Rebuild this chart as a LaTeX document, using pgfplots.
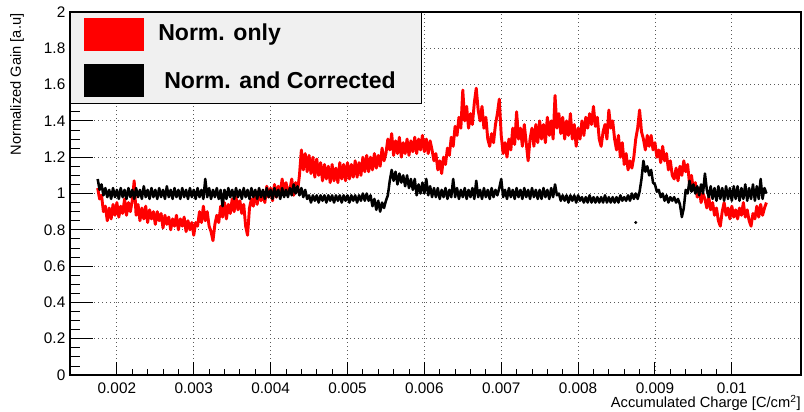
\documentclass[border=0pt]{standalone}
\usepackage{pgfplots}
\pgfplotsset{compat=1.18}
\usepackage{fontspec}
\setmainfont{Liberation Sans}
\definecolor{legendgray}{RGB}{240,240,240}
\begin{document}
\begin{tikzpicture}
\begin{axis}[
  scale only axis, width=548.25pt, height=272.25pt,
  xmin=0.00139, xmax=0.0109, ymin=0, ymax=2,
  axis line style={line width=0.8pt},
  tick pos=left, tick align=inside,
  xtick={0.002,0.003,0.004,0.005,0.006,0.007,0.008,0.009,0.01},
  ytick={0,0.2,0.4,0.6,0.8,1,1.2,1.4,1.6,1.8,2},
  minor x tick num=4, minor y tick num=3,
  xmajorgrids, ymajorgrids,
  grid style={dash pattern=on 0.75pt off 2.25pt, line width=0.6pt, black!65},
  major tick style={line width=0.8pt, black},
  minor tick style={line width=0.6pt, black},
  xtick style={/pgfplots/major tick length=9.5pt,/pgfplots/minor tick length=4.5pt},
  ytick style={/pgfplots/major tick length=17pt,/pgfplots/minor tick length=7.5pt},
  scaled x ticks=false,
  /pgf/number format/assume math mode=true,
  xticklabel style={/pgf/number format/fixed, /pgf/number format/precision=3, font=\fontsize{11.5}{13}\selectfont, yshift=-2pt},
  yticklabel style={font=\fontsize{11.5}{13}\selectfont},
  xlabel={Accumulated Charge [C/cm\textsuperscript{2}]},
  xlabel style={at={(rel axis cs:1,0)}, anchor=base east, inner sep=0pt, yshift=-24.75pt, font=\fontsize{11}{13}\selectfont},
  ylabel={Normalized Gain [a.u]},
  ylabel style={at={(rel axis cs:0,1)}, anchor=east, inner sep=0pt, yshift=39.75pt, xshift=-1pt, font=\fontsize{11}{13}\selectfont},
]
\addplot[red, line width=2.2pt, line join=round] coordinates {
(0.00175,1.03)(0.001775,0.97)(0.0018,0.99)(0.001825,0.90)(0.00185,0.93)(0.001875,0.85)(0.0019,0.92)(0.001925,0.86)(0.00195,0.94)(0.001975,0.88)
(0.002,0.95)(0.002025,0.87)(0.00205,0.93)(0.002075,0.89)(0.0021,0.97)(0.002125,0.88)(0.00215,0.95)(0.002175,0.90)(0.0022,0.96)(0.002225,1.07)
(0.00225,0.88)(0.002275,0.94)(0.0023,0.85)(0.002325,0.92)(0.00235,0.86)(0.002375,0.93)(0.0024,0.84)(0.002425,0.91)(0.00245,0.86)(0.002475,0.90)
(0.0025,0.83)(0.002525,0.90)(0.00255,0.85)(0.002575,0.89)(0.0026,0.81)(0.002625,0.88)(0.00265,0.83)(0.002675,0.87)(0.0027,0.80)(0.002725,0.86)
(0.00275,0.82)(0.002775,0.88)(0.0028,0.80)(0.002825,0.86)(0.00285,0.82)(0.002875,0.87)(0.0029,0.79)(0.002925,0.85)(0.00295,0.80)(0.002975,0.84)
(0.003,0.77)(0.003025,0.84)(0.00305,0.82)(0.003075,0.90)(0.0031,0.84)(0.003125,0.93)(0.00315,0.85)(0.003175,0.90)(0.0032,0.82)(0.003225,0.79)
(0.00325,0.74)(0.003275,0.83)(0.0033,0.88)(0.003325,0.84)(0.00335,0.93)(0.003375,0.87)(0.0034,0.95)(0.003425,0.86)(0.00345,0.94)(0.003475,0.89)
(0.0035,0.97)(0.003525,0.90)(0.00355,0.98)(0.003575,0.91)(0.0036,0.96)(0.003625,0.89)(0.00365,0.94)(0.003675,0.82)(0.0037,0.77)(0.003725,0.92)
(0.00375,0.97)(0.003775,0.93)(0.0038,1.01)(0.003825,0.94)(0.00385,1.02)(0.003875,0.96)(0.0039,1.00)(0.003925,0.95)(0.00395,1.04)(0.003975,0.98)
(0.004,1.03)(0.004025,0.96)(0.00405,1.05)(0.004075,0.98)(0.0041,1.04)(0.004125,1.00)(0.00415,1.08)(0.004175,0.99)(0.0042,1.06)(0.004225,1.01)
(0.00425,1.02)(0.004275,1.08)(0.0043,0.99)(0.004325,1.06)(0.00435,1.01)(0.004375,1.10)(0.0044,1.24)(0.004425,1.13)(0.00445,1.22)(0.004475,1.12)
(0.0045,1.21)(0.004525,1.11)(0.00455,1.20)(0.004575,1.09)(0.0046,1.19)(0.004625,1.10)(0.00465,1.17)(0.004675,1.07)(0.0047,1.16)(0.004725,1.08)
(0.00475,1.15)(0.004775,1.06)(0.0048,1.16)(0.004825,1.07)(0.00485,1.14)(0.004875,1.06)(0.0049,1.17)(0.004925,1.08)(0.00495,1.16)(0.004975,1.07)
(0.005,1.17)(0.005025,1.08)(0.00505,1.16)(0.005075,1.09)(0.0051,1.18)(0.005125,1.09)(0.00515,1.17)(0.005175,1.10)(0.0052,1.20)(0.005225,1.12)
(0.00525,1.21)(0.005275,1.12)(0.0053,1.20)(0.005325,1.13)(0.00535,1.22)(0.005375,1.14)(0.0054,1.21)(0.005425,1.15)(0.00545,1.25)(0.005475,1.18)
(0.0055,1.22)(0.005525,1.30)(0.00555,1.24)(0.005575,1.33)(0.0056,1.21)(0.005625,1.29)(0.00565,1.22)(0.005675,1.31)(0.0057,1.20)(0.005725,1.28)
(0.00575,1.22)(0.005775,1.30)(0.0058,1.21)(0.005825,1.29)(0.00585,1.23)(0.005875,1.31)(0.0059,1.22)(0.005925,1.30)(0.00595,1.24)(0.005975,1.32)
(0.006,1.23)(0.006025,1.30)(0.00605,1.22)(0.006075,1.29)(0.0061,1.24)(0.006125,1.18)(0.00615,1.22)(0.006175,1.13)(0.0062,1.18)(0.006225,1.11)
(0.00625,1.20)(0.006275,1.16)(0.0063,1.25)(0.006325,1.21)(0.00635,1.31)(0.006375,1.26)(0.0064,1.37)(0.006425,1.32)(0.00645,1.42)(0.006475,1.36)
(0.0065,1.57)(0.006525,1.40)(0.00655,1.48)(0.006575,1.36)(0.0066,1.44)(0.006625,1.38)(0.00665,1.50)(0.006675,1.58)(0.0067,1.46)(0.006725,1.40)
(0.00675,1.48)(0.006775,1.36)(0.0068,1.42)(0.006825,1.30)(0.00685,1.26)(0.006875,1.33)(0.0069,1.28)(0.006925,1.38)(0.00695,1.44)(0.006975,1.52)
(0.007,1.32)(0.007025,1.22)(0.00705,1.28)(0.007075,1.20)(0.0071,1.30)(0.007125,1.24)(0.00715,1.36)(0.007175,1.27)(0.0072,1.45)(0.007225,1.30)
(0.00725,1.36)(0.007275,1.26)(0.0073,1.38)(0.007325,1.28)(0.00735,1.18)(0.007375,1.30)(0.0074,1.36)(0.007425,1.26)(0.00745,1.38)(0.007475,1.28)
(0.0075,1.40)(0.007525,1.30)(0.00755,1.38)(0.007575,1.28)(0.0076,1.42)(0.007625,1.32)(0.00765,1.40)(0.007675,1.30)(0.0077,1.54)(0.007725,1.36)
(0.00775,1.44)(0.007775,1.33)(0.0078,1.42)(0.007825,1.30)(0.00785,1.40)(0.007875,1.32)(0.0079,1.44)(0.007925,1.30)(0.00795,1.38)(0.007975,1.26)
(0.008,1.36)(0.008025,1.30)(0.00805,1.40)(0.008075,1.32)(0.0081,1.42)(0.008125,1.36)(0.00815,1.44)(0.008175,1.38)(0.0082,1.48)(0.008225,1.37)
(0.00825,1.42)(0.008275,1.30)(0.0083,1.26)(0.008325,1.34)(0.00835,1.38)(0.008375,1.30)(0.0084,1.46)(0.008425,1.36)(0.00845,1.40)(0.008475,1.30)
(0.0085,1.24)(0.008525,1.32)(0.00855,1.20)(0.008575,1.28)(0.0086,1.16)(0.008625,1.22)(0.00865,1.13)(0.008675,1.18)(0.0087,1.14)(0.008725,1.20)
(0.00875,1.30)(0.008775,1.36)(0.0088,1.46)(0.008825,1.34)(0.00885,1.30)(0.008875,1.24)(0.0089,1.32)(0.008925,1.26)(0.00895,1.32)(0.008975,1.24)
(0.009,1.28)(0.009025,1.20)(0.00905,1.24)(0.009075,1.17)(0.0091,1.26)(0.009125,1.18)(0.00915,1.22)(0.009175,1.13)(0.0092,1.18)(0.009225,1.10)
(0.00925,1.08)(0.009275,1.14)(0.0093,1.07)(0.009325,1.15)(0.00935,1.10)(0.009375,1.18)(0.0094,1.12)(0.009425,1.16)(0.00945,1.05)(0.009475,1.10)
(0.0095,1.02)(0.009525,1.06)(0.00955,0.98)(0.009575,1.03)(0.0096,0.95)(0.009625,1.00)(0.00965,0.97)(0.009675,0.92)(0.0097,0.98)(0.009725,0.91)
(0.00975,0.95)(0.009775,0.88)(0.0098,0.92)(0.009825,0.85)(0.00985,0.82)(0.009875,0.90)(0.0099,0.95)(0.009925,0.88)(0.00995,0.92)(0.009975,0.86)
(0.01,0.93)(0.010025,0.87)(0.01005,0.91)(0.010075,0.86)(0.0101,0.92)(0.010125,0.88)(0.01015,0.95)(0.010175,0.87)(0.0102,0.91)(0.010225,0.85)
(0.01025,0.82)(0.010275,0.89)(0.0103,0.86)(0.010325,0.93)(0.01035,0.87)(0.010375,0.94)(0.0104,0.88)(0.010425,0.92)(0.01045,0.95)
};
\addplot[black, line width=1.9pt, line join=round] coordinates {
(0.00175,1.08)(0.001775,1.02)(0.0018,1.05)(0.001825,0.99)(0.00185,1.03)(0.001875,0.98)(0.0019,1.02)(0.001925,0.97)(0.00195,1.03)(0.001975,0.98)
(0.002,1.02)(0.002025,0.97)(0.00205,1.03)(0.002075,0.98)(0.0021,1.02)(0.002125,0.97)(0.00215,1.03)(0.002175,0.98)(0.0022,1.02)(0.002225,0.97)
(0.00225,1.03)(0.002275,0.98)(0.0023,1.02)(0.002325,0.97)(0.00235,1.04)(0.002375,0.98)(0.0024,1.02)(0.002425,0.97)(0.00245,1.03)(0.002475,0.98)
(0.0025,1.02)(0.002525,0.97)(0.00255,1.03)(0.002575,0.98)(0.0026,1.02)(0.002625,0.97)(0.00265,1.04)(0.002675,0.98)(0.0027,1.02)(0.002725,0.97)
(0.00275,1.03)(0.002775,0.98)(0.0028,1.02)(0.002825,0.97)(0.00285,1.03)(0.002875,0.98)(0.0029,1.02)(0.002925,0.97)(0.00295,1.03)(0.002975,0.98)
(0.003,1.02)(0.003025,0.97)(0.00305,1.03)(0.003075,0.98)(0.0031,1.02)(0.003125,0.97)(0.00315,1.08)(0.003175,0.98)(0.0032,1.03)(0.003225,0.97)
(0.00325,1.02)(0.003275,0.98)(0.0033,1.03)(0.003325,0.97)(0.00335,1.02)(0.003375,0.93)(0.0034,1.02)(0.003425,0.97)(0.00345,1.03)(0.003475,0.98)
(0.0035,1.02)(0.003525,0.97)(0.00355,1.03)(0.003575,0.98)(0.0036,1.02)(0.003625,0.97)(0.00365,1.03)(0.003675,0.98)(0.0037,1.02)(0.003725,0.97)
(0.00375,1.03)(0.003775,0.98)(0.0038,1.02)(0.003825,0.97)(0.00385,1.03)(0.003875,0.98)(0.0039,1.02)(0.003925,0.97)(0.00395,1.03)(0.003975,0.98)
(0.004,1.02)(0.004025,0.97)(0.00405,1.03)(0.004075,0.98)(0.0041,1.02)(0.004125,0.97)(0.00415,1.03)(0.004175,0.98)(0.0042,1.02)(0.004225,0.98)
(0.00425,1.03)(0.004275,0.99)(0.0043,1.05)(0.004325,1.00)(0.00435,1.04)(0.004375,0.99)(0.0044,1.03)(0.004425,0.98)(0.00445,1.02)(0.004475,0.97)
(0.0045,0.99)(0.004525,0.95)(0.00455,0.99)(0.004575,0.96)(0.0046,0.99)(0.004625,0.95)(0.00465,0.99)(0.004675,0.96)(0.0047,0.99)(0.004725,0.95)
(0.00475,0.99)(0.004775,0.96)(0.0048,0.99)(0.004825,0.95)(0.00485,0.99)(0.004875,0.96)(0.0049,0.99)(0.004925,0.95)(0.00495,0.99)(0.004975,0.96)
(0.005,0.99)(0.005025,0.95)(0.00505,0.99)(0.005075,0.96)(0.0051,0.99)(0.005125,0.95)(0.00515,0.99)(0.005175,0.96)(0.0052,1.00)(0.005225,0.96)
(0.00525,1.00)(0.005275,0.96)(0.0053,0.99)(0.005325,0.93)(0.00535,0.97)(0.005375,0.91)(0.0054,0.96)(0.005425,0.90)(0.00545,0.95)(0.005475,0.92)
(0.0055,0.96)(0.005525,0.99)(0.00555,1.07)(0.005575,1.13)(0.0056,1.07)(0.005625,1.12)(0.00565,1.05)(0.005675,1.11)(0.0057,1.06)(0.005725,1.10)
(0.00575,1.04)(0.005775,1.10)(0.0058,1.03)(0.005825,1.08)(0.00585,1.02)(0.005875,1.08)(0.0059,0.99)(0.005925,1.05)(0.00595,1.00)(0.005975,1.06)
(0.006,1.00)(0.006025,1.08)(0.00605,0.99)(0.006075,1.04)(0.0061,0.98)(0.006125,1.03)(0.00615,0.98)(0.006175,1.03)(0.0062,0.97)(0.006225,1.02)
(0.00625,0.98)(0.006275,1.03)(0.0063,0.97)(0.006325,1.02)(0.00635,0.98)(0.006375,1.08)(0.0064,0.98)(0.006425,1.03)(0.00645,0.97)(0.006475,1.02)
(0.0065,0.98)(0.006525,1.03)(0.00655,0.97)(0.006575,1.02)(0.0066,0.98)(0.006625,1.03)(0.00665,0.97)(0.006675,1.07)(0.0067,0.98)(0.006725,1.02)
(0.00675,0.97)(0.006775,1.03)(0.0068,0.98)(0.006825,1.02)(0.00685,0.97)(0.006875,1.03)(0.0069,0.98)(0.006925,1.02)(0.00695,0.99)(0.006975,1.03)
(0.007,1.08)(0.007025,0.98)(0.00705,1.02)(0.007075,0.97)(0.0071,1.03)(0.007125,0.98)(0.00715,1.02)(0.007175,0.97)(0.0072,1.03)(0.007225,0.98)
(0.00725,1.02)(0.007275,0.97)(0.0073,1.03)(0.007325,0.98)(0.00735,1.02)(0.007375,0.97)(0.0074,1.03)(0.007425,0.98)(0.00745,1.02)(0.007475,0.97)
(0.0075,1.02)(0.007525,0.97)(0.00755,1.03)(0.007575,0.98)(0.0076,1.02)(0.007625,0.97)(0.00765,1.03)(0.007675,0.98)(0.0077,1.05)(0.007725,0.99)
(0.00775,1.00)(0.007775,0.96)(0.0078,0.99)(0.007825,0.96)(0.00785,0.99)(0.007875,0.95)(0.0079,0.99)(0.007925,0.96)(0.00795,0.99)(0.007975,0.95)
(0.008,0.99)(0.008025,0.96)(0.00805,0.98)(0.008075,0.95)(0.0081,0.98)(0.008125,0.95)(0.00815,0.99)(0.008175,0.95)(0.0082,0.98)(0.008225,0.95)
(0.00825,0.98)(0.008275,0.95)(0.0083,0.98)(0.008325,0.95)(0.00835,0.99)(0.008375,0.95)(0.0084,0.98)(0.008425,0.95)(0.00845,0.98)(0.008475,0.95)
(0.0085,0.98)(0.008525,0.95)(0.00855,0.99)(0.008575,0.96)(0.0086,0.98)(0.008625,0.96)(0.00865,0.99)(0.008675,0.96)(0.0087,1.00)(0.008725,0.97)
(0.00875,1.00)(0.008775,0.97)(0.0088,1.01)(0.008825,1.08)(0.00885,1.18)(0.008875,1.12)(0.0089,1.15)(0.008925,1.10)(0.00895,1.13)(0.008975,1.06)
(0.009,1.05)(0.009025,1.01)(0.00905,1.02)(0.009075,0.98)(0.0091,1.00)(0.009125,0.96)(0.00915,0.99)(0.009175,0.95)(0.0092,0.98)(0.009225,0.96)
(0.00925,0.98)(0.009275,0.95)(0.0093,0.97)(0.009325,0.94)(0.00935,0.87)(0.009375,0.92)(0.0094,1.02)(0.009425,1.00)(0.00945,1.07)(0.009475,1.01)
(0.0095,1.05)(0.009525,1.00)(0.00955,1.04)(0.009575,0.99)(0.0096,1.05)(0.009625,1.00)(0.00965,1.11)(0.009675,1.02)(0.0097,0.98)(0.009725,1.04)
(0.00975,0.97)(0.009775,1.03)(0.0098,0.96)(0.009825,1.04)(0.00985,0.97)(0.009875,1.03)(0.0099,0.96)(0.009925,1.04)(0.00995,0.97)(0.009975,1.03)
(0.01,0.96)(0.010025,1.04)(0.01005,0.97)(0.010075,1.04)(0.0101,0.96)(0.010125,1.03)(0.01015,0.97)(0.010175,1.05)(0.0102,0.96)(0.010225,1.03)
(0.01025,0.97)(0.010275,1.05)(0.0103,0.96)(0.010325,1.04)(0.01035,0.97)(0.010375,1.08)(0.0104,0.97)(0.010425,1.03)(0.01045,1.00)
};
\addplot[black, only marks, mark=*, mark size=0.9pt] coordinates {(0.00875,0.84)};
% legend
\draw[fill=legendgray, line width=0.6pt] (rel axis cs:0,1) rectangle ++(263.25pt,-68.25pt);
\fill[red] (rel axis cs:0,1) ++(10.5pt,-4.5pt) rectangle ++(45pt,-24.75pt);
\fill[black] (rel axis cs:0,1) ++(10.5pt,-39pt) rectangle ++(45pt,-24.75pt);
\node[anchor=west, inner sep=0pt, font=\fontsize{17.3}{19}\selectfont\bfseries] at ([shift={(66pt,-17pt)}]rel axis cs:0,1) {Norm. only};
\node[anchor=west, inner sep=0pt, font=\fontsize{17.3}{19}\selectfont\bfseries] at ([shift={(70.5pt,-51.4pt)}]rel axis cs:0,1) {Norm. and Corrected};
\end{axis}
\pgfresetboundingbox
\path[use as bounding box] ([shift={(-52.5pt,-27.75pt)}]current axis.south west) rectangle ([shift={(2.25pt,9pt)}]current axis.north east);
\end{tikzpicture}
\end{document}
